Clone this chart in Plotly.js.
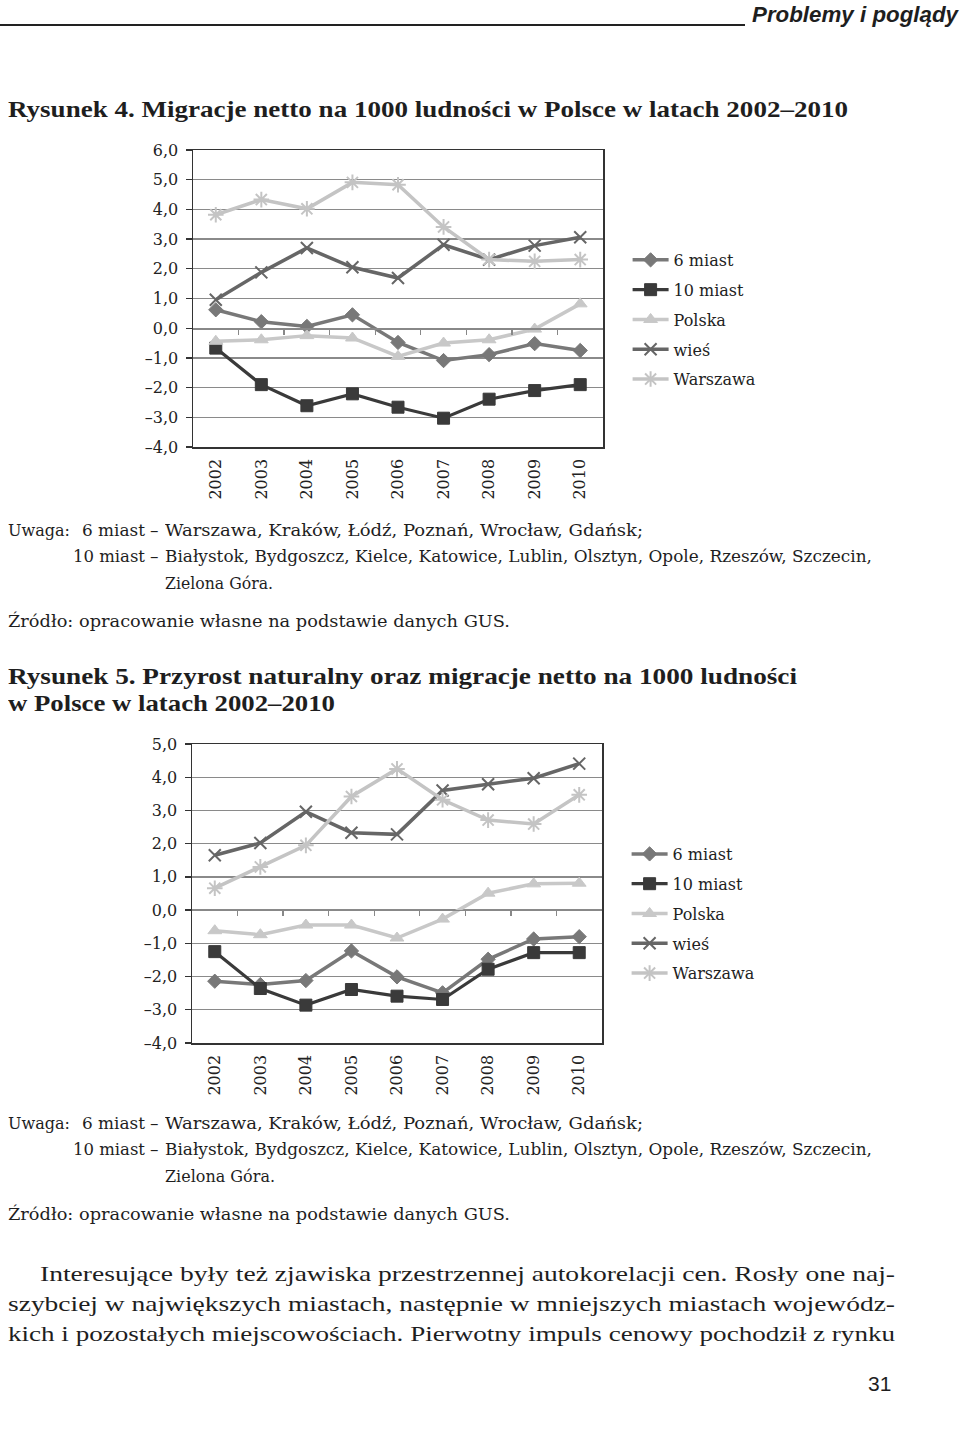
<!DOCTYPE html>
<html>
<head>
<meta charset="utf-8">
<script src="https://cdn.plot.ly/plotly-3.0.1.min.js"></script>
<style>
body{margin:0;background:#fff}
#page{position:relative;width:960px;height:1430px;overflow:hidden;background:#fff;color:#1e1e1e}
.t{position:absolute;white-space:nowrap;line-height:1;transform-origin:0 0}
.sf{font-family:"DejaVu Serif",serif;font-size:17px}
.tt{font-family:"Liberation Serif",serif;font-weight:bold;font-size:24px}
.bd{font-family:"Liberation Serif",serif;font-size:21px}
.chart{position:absolute;left:0;width:800px;height:380px}
</style>
</head>
<body>
<div id="page">
  <div class="t" data-b="22" data-w="206" style="left:752px;font-family:'Liberation Sans',sans-serif;font-weight:bold;font-style:italic;font-size:22px">Problemy i poglądy</div>
  <div style="position:absolute;left:0;top:24px;width:745px;height:1.5px;background:#222"></div>

  <div class="t tt" data-b="117" data-w="840" style="left:8px">Rysunek 4. Migracje netto na 1000 ludności w Polsce w latach 2002–2010</div>
  <div id="chart1" class="chart" style="top:130px"></div>

  <div class="t sf" data-b="536" data-w="62" style="left:8px">Uwaga:</div>
  <div class="t sf" data-b="536" data-w="63" style="left:82px">6 miast</div>
  <div class="t sf" data-b="536" style="left:150px">–</div>
  <div class="t sf" data-b="536" data-w="478" style="left:165px">Warszawa, Kraków, Łódź, Poznań, Wrocław, Gdańsk;</div>
  <div class="t sf" data-b="562" data-w="72" style="left:73px">10 miast</div>
  <div class="t sf" data-b="562" style="left:150px">–</div>
  <div class="t sf" data-b="562" data-w="707" style="left:165px">Białystok, Bydgoszcz, Kielce, Katowice, Lublin, Olsztyn, Opole, Rzeszów, Szczecin,</div>
  <div class="t sf" data-b="589" data-w="108" style="left:165px">Zielona Góra.</div>
  <div class="t sf" data-b="627" data-w="502" style="left:8px">Źródło: opracowanie własne na podstawie danych GUS.</div>

  <div class="t tt" data-b="684" data-w="789" style="left:8px">Rysunek 5. Przyrost naturalny oraz migracje netto na 1000 ludności</div>
  <div class="t tt" data-b="711" data-w="327" style="left:8px">w Polsce w latach 2002–2010</div>
  <div id="chart2" class="chart" style="top:724px"></div>

  <div class="t sf" data-b="1129" data-w="62" style="left:8px">Uwaga:</div>
  <div class="t sf" data-b="1129" data-w="63" style="left:82px">6 miast</div>
  <div class="t sf" data-b="1129" style="left:150px">–</div>
  <div class="t sf" data-b="1129" data-w="478" style="left:165px">Warszawa, Kraków, Łódź, Poznań, Wrocław, Gdańsk;</div>
  <div class="t sf" data-b="1155" data-w="72" style="left:73px">10 miast</div>
  <div class="t sf" data-b="1155" style="left:150px">–</div>
  <div class="t sf" data-b="1155" data-w="707" style="left:165px">Białystok, Bydgoszcz, Kielce, Katowice, Lublin, Olsztyn, Opole, Rzeszów, Szczecin,</div>
  <div class="t sf" data-b="1182" data-w="110" style="left:165px">Zielona Góra.</div>
  <div class="t sf" data-b="1220" data-w="502" style="left:8px">Źródło: opracowanie własne na podstawie danych GUS.</div>

  <div class="t bd" data-b="1282" data-w="855" style="left:40px">Interesujące były też zjawiska przestrzennej autokorelacji cen. Rosły one naj-</div>
  <div class="t bd" data-b="1312" data-w="887" style="left:8px">szybciej w największych miastach, następnie w mniejszych miastach wojewódz-</div>
  <div class="t bd" data-b="1342" data-w="887" style="left:8px">kich i pozostałych miejscowościach. Pierwotny impuls cenowy pochodził z rynku</div>

  <div class="t" data-b="1391" style="left:868px;font-family:'Liberation Sans',sans-serif;font-size:21px">31</div>
</div>

<script>
// lata (kategorie osi X)
var years = ['2002','2003','2004','2005','2006','2007','2008','2009','2010'];

// Rysunek 4 - migracje netto na 1000 ludnosci
var mig6 = [0.62, 0.22, 0.06, 0.45, -0.48, -1.09, -0.89, -0.52, -0.75];
var mig10 = [-0.67, -1.90, -2.61, -2.21, -2.66, -3.03, -2.39, -2.10, -1.90];
var migPolska = [-0.44, -0.39, -0.25, -0.33, -0.95, -0.50, -0.39, -0.03, 0.82];
var migWies = [0.96, 1.88, 2.70, 2.05, 1.69, 2.81, 2.31, 2.78, 3.06];
var migWarszawa = [3.82, 4.33, 4.02, 4.91, 4.83, 3.41, 2.31, 2.25, 2.31];

// Rysunek 5 - przyrost naturalny oraz migracje netto
var prz6 = [-2.14, -2.24, -2.12, -1.23, -2.01, -2.49, -1.48, -0.87, -0.80];
var prz10 = [-1.25, -2.36, -2.86, -2.39, -2.59, -2.69, -1.78, -1.28, -1.28];
var przPolska = [-0.62, -0.74, -0.45, -0.45, -0.84, -0.27, 0.51, 0.79, 0.81];
var przWies = [1.65, 2.02, 2.96, 2.33, 2.28, 3.60, 3.79, 3.97, 4.41];
var przWarszawa = [0.66, 1.30, 1.95, 3.42, 4.25, 3.32, 2.71, 2.59, 3.47];

// podzialki osi Y
var yTicks1 = [6, 5, 4, 3, 2, 1, 0, -1, -2, -3, -4];
var yLabels1 = ['6,0','5,0','4,0','3,0','2,0','1,0','0,0','–1,0','–2,0','–3,0','–4,0'];
var yTicks2 = [5, 4, 3, 2, 1, 0, -1, -2, -3, -4];
var yLabels2 = ['5,0','4,0','3,0','2,0','1,0','0,0','–1,0','–2,0','–3,0','–4,0'];

var names = ['6 miast', '10 miast', 'Polska', 'wieś', 'Warszawa'];

// style serii
var styles = [
  {color: '#787878', symbol: 'diamond', size: 11, width: 3.5, mline: 1},
  {color: '#3a3a3a', symbol: 'square', size: 12, width: 3.2, mline: 1},
  {color: '#c8c8c8', symbol: 'triangle-up', size: 12, width: 3.5, mline: 1},
  {color: '#666666', symbol: 'x-thin', size: 12, width: 3.5, mline: 2},
  {color: '#c4c4c4', symbol: 'asterisk', size: 13, width: 3.5, mline: 2}
];

var tickFont = {family: 'DejaVu Serif, serif', size: 16, color: '#222'};

function makeChart(id, series, yr, tickvals, ticktext, margin, legendY) {
  var traces = series.map(function(vals, i) {
    var s = styles[i];
    return {
      x: years, y: vals, name: names[i],
      type: 'scatter', mode: 'lines+markers',
      legendgroup: 'g' + i,
      line: {color: s.color, width: s.width},
      marker: {symbol: s.symbol, size: s.size, color: s.color,
               line: {color: s.color, width: s.mline}}
    };
  });
  // pusta seria dla osi przez zero
  traces.push({x: [], y: [], xaxis: 'x2', showlegend: false, hoverinfo: 'skip'});

  var zeroPos = (0 - yr[0]) / (yr[1] - yr[0]);

  var layout = {
    width: 800, height: 380,
    margin: margin,
    paper_bgcolor: '#fff', plot_bgcolor: '#fff',
    showlegend: true,
    font: tickFont,
    xaxis: {
      type: 'category', range: [-0.5, 8.5],
      showline: true, mirror: true, linecolor: '#333', linewidth: 1.5,
      ticks: '', showgrid: false, zeroline: false,
      tickangle: -90, tickfont: tickFont, ticklabelstandoff: 4
    },
    xaxis2: {
      overlaying: 'x', anchor: 'free', position: zeroPos,
      type: 'linear', range: [-0.5, 8.5],
      tickvals: [0.5, 1.5, 2.5, 3.5, 4.5, 5.5, 6.5, 7.5],
      ticks: 'outside', ticklen: 5, tickcolor: '#888', tickwidth: 1.3,
      showline: true, linecolor: '#888', linewidth: 1.3,
      showticklabels: false, showgrid: false, zeroline: false
    },
    yaxis: {
      range: yr, tickvals: tickvals, ticktext: ticktext,
      showgrid: true, gridcolor: '#8a8a8a', gridwidth: 1.3,
      showline: true, mirror: true, linecolor: '#333', linewidth: 1.5,
      ticks: 'outside', ticklen: 6, tickcolor: '#333', tickwidth: 1.3,
      zeroline: false, tickfont: tickFont, ticklabelstandoff: 4
    },
    legend: {
      x: 1.06, xanchor: 'left', y: legendY, yanchor: 'top',
      font: {family: 'DejaVu Serif, serif', size: 16, color: '#222'},
      itemwidth: 36, traceorder: 'grouped', tracegroupgap: 6,
      bgcolor: 'rgba(0,0,0,0)'
    }
  };
  Plotly.newPlot(id, traces, layout, {displayModeBar: false, staticPlot: true});
}

makeChart('chart1', [mig6, mig10, migPolska, migWies, migWarszawa],
  [-4, 6], yTicks1, yLabels1, {l: 193, r: 197, t: 20, b: 63}, 0.687);
makeChart('chart2', [prz6, prz10, przPolska, przWies, przWarszawa],
  [-4, 5], yTicks2, yLabels2, {l: 192, r: 198, t: 20, b: 61}, 0.689);

// ustawienie tekstow: linia bazowa i szerokosc jak na wzorze
document.querySelectorAll('.t').forEach(function(el) {
  var fs = parseFloat(getComputedStyle(el).fontSize);
  el.style.top = (parseFloat(el.dataset.b) - 0.84 * fs) + 'px';
  if (el.dataset.w) {
    var w = el.getBoundingClientRect().width;
    el.style.transform = 'scaleX(' + (parseFloat(el.dataset.w) / w).toFixed(4) + ')';
  }
});
</script>
</body>
</html>
